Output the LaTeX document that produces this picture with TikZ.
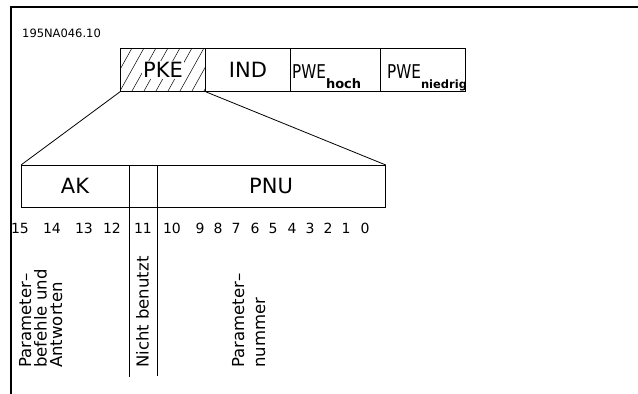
\documentclass[tikz,border=0pt]{standalone}
\usepackage{fontspec}
\setmainfont{DejaVu Sans}
\newfontfamily\pwefont[FakeStretch=0.8]{DejaVu Sans}
\begin{document}
\begin{tikzpicture}[x=1pt,y=-1pt,
  frameline/.style={line width=2pt},
  boxline/.style={line width=0.8pt},
  hatchline/.style={line width=0.5pt},
  bignum/.style={font=\fontsize{14}{14}\selectfont, inner sep=0pt, anchor=base},
  bigtxt/.style={font=\fontsize{21}{22}\selectfont, inner sep=0pt},
  vtxt/.style={rotate=90, anchor=north west, inner sep=0pt, align=left}
]
\useasboundingbox (0,0) rectangle (638,394);
% frame
\coordinate (ftl) at (11,7);
\coordinate (ftr) at (638,7);
\coordinate (fbl) at (11,394);
\draw[frameline] (ftr) -- (ftl) -- (fbl);
% id
\node[anchor=west, inner sep=0pt, font=\fontsize{11.5}{12}\selectfont] (id) at (22,33) {195NA046.10};
% top boxes
\node[draw, boxline, minimum width=85pt, minimum height=43pt, anchor=north west, inner sep=0pt] (pke) at (120,48) {};
\node[draw, boxline, minimum width=85pt, minimum height=43pt, anchor=north west, inner sep=0pt] (ind) at (205,48) {};
\node[draw, boxline, minimum width=90pt, minimum height=43pt, anchor=north west, inner sep=0pt] (pwh) at (290,48) {};
\node[draw, boxline, minimum width=85pt, minimum height=43pt, anchor=north west, inner sep=0pt] (pwn) at (380,48) {};
% hatch
\begin{scope}
  \clip (pke.north west) rectangle (pke.south east);
  \foreach \xx in {96,108,...,220} {
    \draw[hatchline] (\xx,91) -- ++(24,-43);
  }
\end{scope}
\draw[boxline] (pke.north west) rectangle (pke.south east);
\node[bigtxt, fill=white, inner sep=1.5pt] (pket) at (163,70) {PKE};
\node[bigtxt] (indt) at (ind.center) {IND};
\node[anchor=base west, inner sep=0pt] (pwht) at (292,78)
  {{\pwefont\fontsize{19}{19}\selectfont PWE}\raisebox{-10pt}{\fontsize{13}{13}\selectfont\bfseries hoch}};
\node[anchor=base west, inner sep=0pt] (pwnt) at (387,78)
  {{\pwefont\fontsize{19}{19}\selectfont PWE}\raisebox{-10pt}{\fontsize{11.5}{12}\selectfont\bfseries niedrig}};
% lower box
\node[draw, boxline, minimum width=364pt, minimum height=42pt, anchor=north west, inner sep=0pt] (low) at (21,165) {};
\draw[boxline] (pke.south west) -- (low.north west);
\draw[boxline] (pke.south east) -- (low.north east);
\coordinate (d1t) at (129,165);
\coordinate (d1b) at (129,377);
\coordinate (d2t) at (157,165);
\coordinate (d2b) at (157,376);
\draw[boxline] (d1t) -- (d1b);
\draw[boxline] (d2t) -- (d2b);
\node[bigtxt] (ak) at (75,186) {AK};
\node[bigtxt] (pnu) at (271,186) {PNU};
% bit numbers
\foreach \n/\xx in {15/20,14/52,13/84,12/112,11/143,10/172,9/200,8/218,7/236,6/255,5/273,4/292,3/310,2/328,1/346,0/365} {
  \node[bignum] (b\n) at (\xx,233) {\n};
}
% vertical texts
\node[vtxt, font=\fontsize{16.5}{15.5}\selectfont] (v1) at (19,368) {Parameter–\\befehle und\\Antworten};
\node[vtxt, font=\fontsize{16.5}{15.5}\selectfont] (v2) at (136,368) {Nicht benutzt};
\node[vtxt, font=\fontsize{16.5}{21}\selectfont] (v3) at (232,368) {Parameter–\\nummer};
\end{tikzpicture}
\end{document}
